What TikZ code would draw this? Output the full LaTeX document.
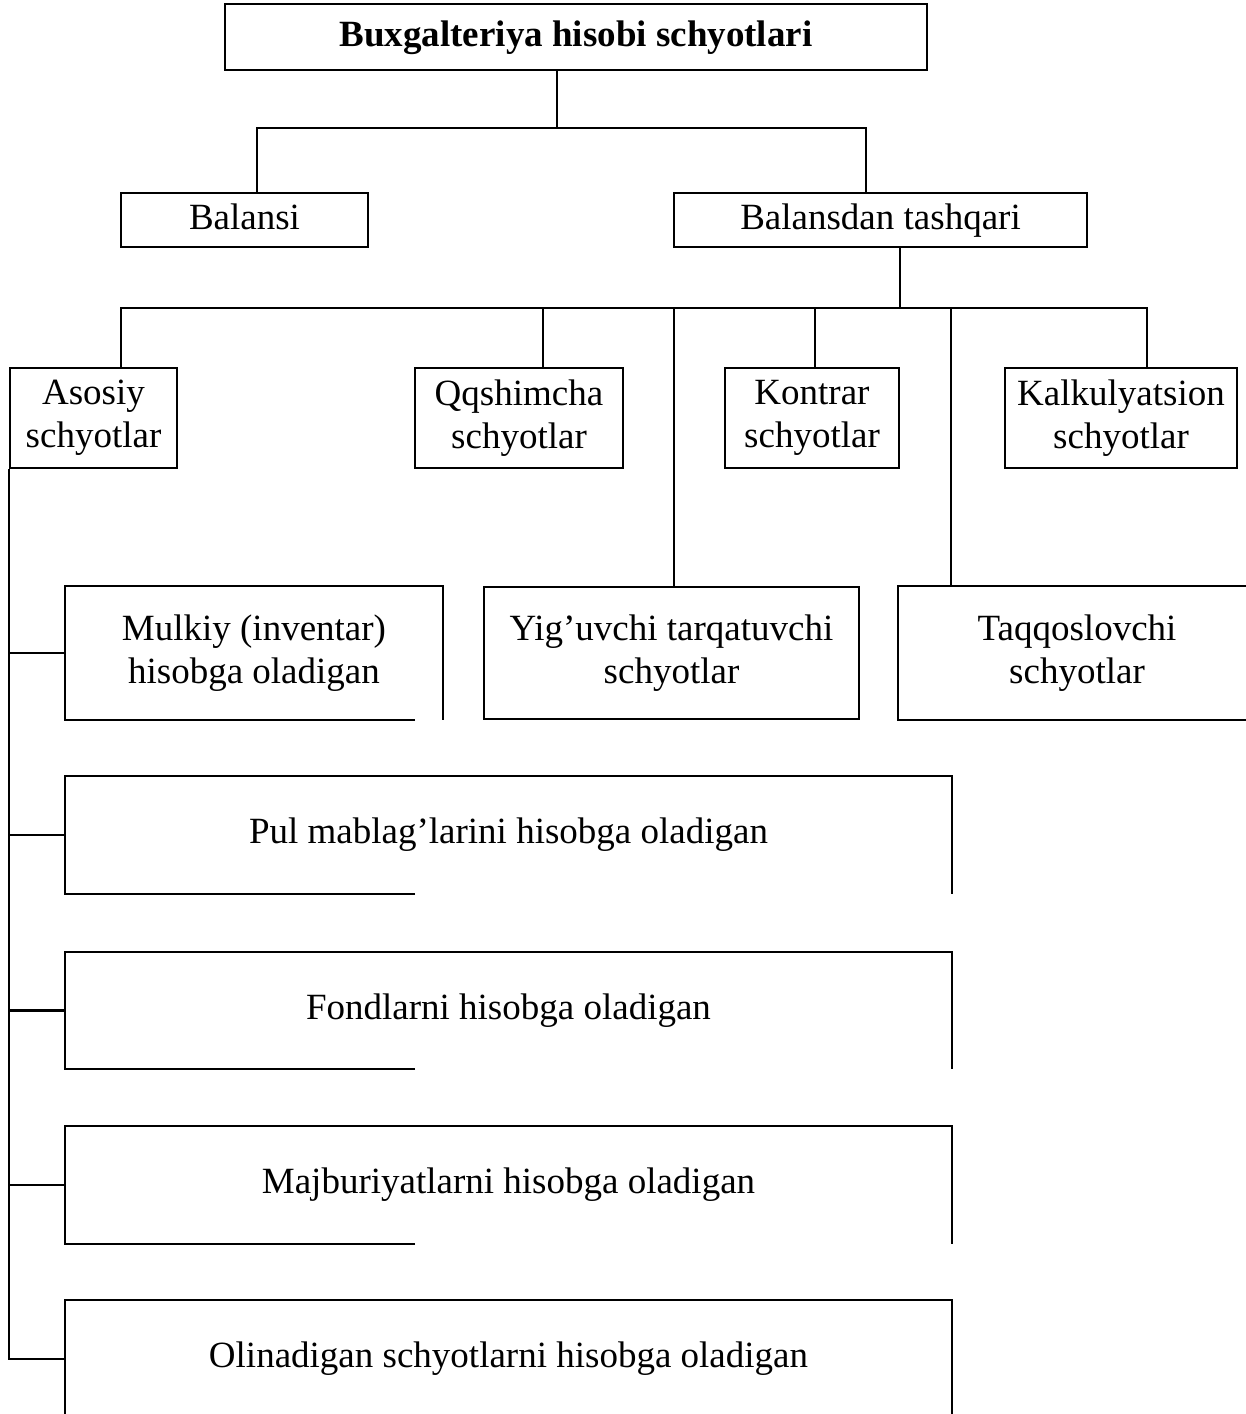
\documentclass[tikz,border=0pt]{standalone}
\usepackage{fontspec}
\setmainfont{Liberation Serif}

\begin{document}
\begin{tikzpicture}[x=0.5pt, y=-0.5pt, line width=1.2pt,
		every node/.style={font=\fontsize{18.5}{21.5}\selectfont, align=center, inner sep=0pt},
		box/.style={rectangle, draw},
		openbox/.style={rectangle}]
		\useasboundingbox (0,0) rectangle (1246,1414);
		\clip (0,0) rectangle (1246,1414);
		% heading
		\node[box, minimum width=351pt, minimum height=33pt, text height=13pt, text depth=4pt, font=\fontsize{18.5}{21.5}\selectfont\bfseries] (hisob) at (576,37) {Buxgalteriya hisobi schyotlari};
		% balance level
		\node[box, minimum width=123.5pt, minimum height=27pt, text height=13pt, text depth=4pt] (balansi) at (244.5,220) {Balansi};
		\node[box, minimum width=206.5pt, minimum height=27pt, text height=13pt, text depth=4pt] (tashqari) at (880.5,220) {Balansdan tashqari};
		% kinds of accounts
		\node[box, minimum width=83.5pt, minimum height=50pt] (asosiy) at (93.5,418) {Asosiy\\schyotlar};
		\node[box, minimum width=104pt, minimum height=50pt] (qoshimcha) at (519,418) {Qqshimcha\\schyotlar};
		\node[box, minimum width=87pt, minimum height=50pt] (kontrar) at (812,418) {Kontrar\\schyotlar};
		\node[box, minimum width=116pt, minimum height=50pt] (kalkul) at (1121,418) {Kalkulyatsion\\schyotlar};
		\node[box, minimum width=187.5pt, minimum height=66pt] (yiguvchi) at (671.5,653) {Yig’uvchi tarqatuvchi\\schyotlar};
		\node[openbox, minimum width=178pt, minimum height=66pt] (taqqos) at (1077,653) {Taqqoslovchi\\schyotlar};
		% main accounts
		\node[openbox, minimum width=188pt, minimum height=66pt] (mulkiy) at (254,653) {Mulkiy (inventar)\\hisobga oladigan};
		\node[openbox, minimum width=442.5pt, minimum height=58pt] (pul) at (508.5,835) {Pul mablag’larini hisobga oladigan};
		\node[openbox, minimum width=442.5pt, minimum height=57.5pt] (fond) at (508.5,1010.5) {Fondlarni hisobga oladigan};
		\node[openbox, minimum width=442.5pt, minimum height=58pt] (majb) at (508.5,1185) {Majburiyatlarni hisobga oladigan};
		\node[openbox, minimum width=442.5pt, minimum height=58pt] (olin) at (508.5,1359) {Olinadigan schyotlarni hisobga oladigan};
		% broken borders
		\coordinate (cut) at (415,0);
		\foreach \b in {mulkiy, pul, fond, majb}
			\draw (\b.south west -| cut) -- (\b.south west) -- (\b.north west) -- (\b.north east) -- (\b.south east);
		\draw (olin.south west) -- (olin.north west) -- (olin.north east) -- (olin.south east);
		\draw (taqqos.north east) -- (taqqos.north west) -- (taqqos.south west) -- (taqqos.south east);
		% first branching
		\coordinate (j0) at (557,128);
		\coordinate (jbal) at (257,128);
		\coordinate (jtash) at (866,128);
		\draw (hisob.south -| j0) -- (j0);
		\draw (balansi.north -| jbal) -- (jbal) -- (jtash) -- (tashqari.north -| jtash);
		% second branching
		\coordinate (k0) at (900,308);
		\coordinate (k1) at (121,308);
		\coordinate (k2) at (543,308);
		\coordinate (k3) at (674,308);
		\coordinate (k4) at (815,308);
		\coordinate (k5) at (951,308);
		\coordinate (k6) at (1147,308);
		\draw (tashqari.south -| k0) -- (k0);
		\draw (asosiy.north -| k1) -- (k1) -- (k6) -- (kalkul.north -| k6);
		\draw (k2) -- (qoshimcha.north -| k2);
		\draw (k3) -- (yiguvchi.north -| k3);
		\draw (k4) -- (kontrar.north -| k4);
		\draw (k5) -- (taqqos.north -| k5);
		% main accounts spine
		\draw (asosiy.south west) -- (asosiy.south west |- olin.west) -- (olin.west);
		\foreach \b in {mulkiy, pul, fond, majb}
			\draw (asosiy.south west |- \b.west) -- (\b.west);
	\end{tikzpicture}
\end{document}
